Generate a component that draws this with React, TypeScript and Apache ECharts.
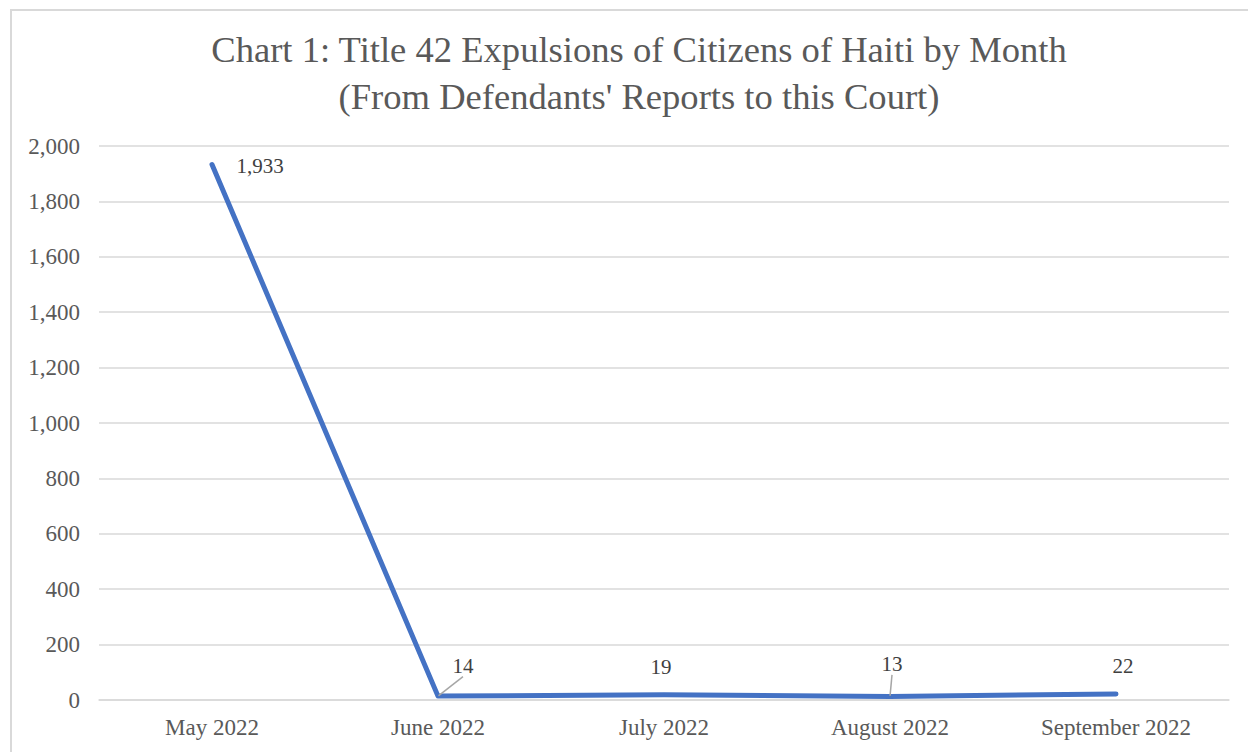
import React, { useEffect, useRef } from "react";
import * as echarts from "echarts";

const categories = ["May 2022", "June 2022", "July 2022", "August 2022", "September 2022"];
const expulsions = [1933, 14, 19, 13, 22];
const titleLines = [
  "Chart 1: Title 42 Expulsions of Citizens of Haiti by Month",
  "(From Defendants' Reports to this Court)",
];
const guideLineShown = [false, true, false, true, false];

const FONT = "'Liberation Serif', 'DejaVu Serif', serif";

export default function App() {
  const ref = useRef<HTMLDivElement>(null);
  useEffect(() => {
    document.body.style.margin = "0";
    const chart = echarts.init(ref.current!, null, { renderer: "svg" });
    chart.setOption({
      animation: false,
      backgroundColor: "#ffffff",
      textStyle: { fontFamily: FONT },
      title: {
        text: titleLines.join("\n"),
        left: 634,
        textAlign: "center",
        top: 21,
        textStyle: {
          fontFamily: FONT,
          fontSize: 36.6,
          fontWeight: "normal",
          color: "#595959",
          lineHeight: 47,
        },
      },
      graphic: [
        {
          type: "polyline",
          shape: { points: [[11, 760], [11, 10], [1260, 10]] },
          style: { stroke: "#d9d9d9", lineWidth: 2, fill: "none" },
          silent: true,
        },
      ],
      grid: { left: 99, right: 19, top: 146, bottom: 52, containLabel: false },
      xAxis: {
        type: "category",
        data: categories,
        boundaryGap: true,
        axisLine: { show: true, lineStyle: { color: "#d9d9d9", width: 1.5 } },
        axisTick: { show: false },
        axisLabel: {
          color: "#595959",
          fontSize: 23,
          fontFamily: FONT,
          margin: 16,
        },
      },
      yAxis: {
        type: "value",
        min: 0,
        max: 2000,
        interval: 200,
        axisLine: { show: false },
        axisTick: { show: false },
        splitLine: { lineStyle: { color: "#d9d9d9", width: 1.5 } },
        axisLabel: {
          color: "#595959",
          fontSize: 23,
          fontFamily: FONT,
          margin: 19,
          formatter: (v: number) => v.toLocaleString("en-US"),
        },
      },
      series: [
        {
          type: "line",
          data: expulsions.map((v, i) => ({
            value: v,
            labelLine: { show: guideLineShown[i] },
          })),
          symbol: "circle",
          symbolSize: 1,
          showSymbol: true,
          itemStyle: { color: "#4472C4" },
          lineStyle: { color: "#4472C4", width: 5, cap: "round", join: "round" },
          label: {
            show: true,
            position: "top",
            distance: 14,
            color: "#404040",
            fontSize: 21,
            fontFamily: FONT,
            formatter: (p: any) => Number(p.value).toLocaleString("en-US"),
          },
          labelLine: { show: true, lineStyle: { color: "#a6a6a6", width: 1.5 } },
          labelLayout: (params: any) => {
            const i = params.dataIndex;
            if (i === 0) return { dx: 48, dy: 26 };
            if (i === 1) return { dx: 25, dy: -5 };
            if (i === 2) return { dx: -3, dy: -3 };
            if (i === 3) return { dx: 2, dy: -7 };
            if (i === 4) return { dx: 7, dy: -3 };
            return {};
          },
        },
      ],
    });
    return () => chart.dispose();
  }, []);
  return <div ref={ref} style={{ position: "fixed", left: 0, top: 0, width: 1248, height: 752 }} />;
}
